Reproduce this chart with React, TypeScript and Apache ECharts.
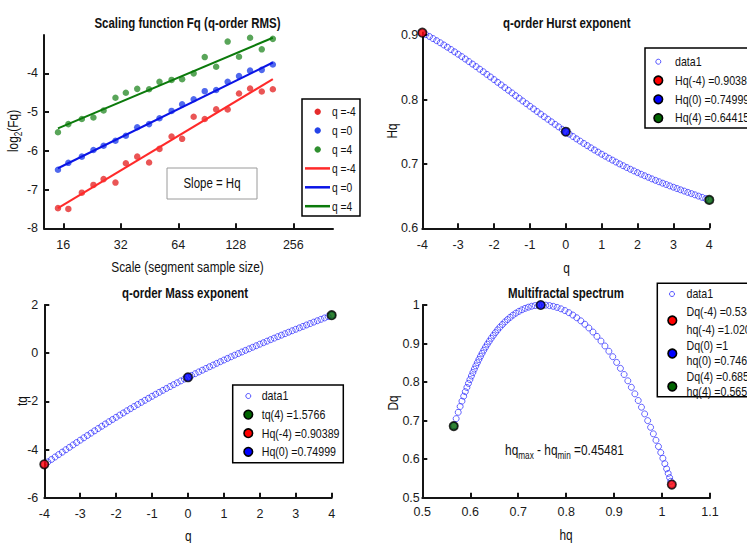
import React, { useEffect, useRef } from 'react';
import * as echarts from 'echarts';

const FONT = '"Liberation Sans", Arial, Helvetica, sans-serif';
const SX = 0.82;

// Panel 1: scaling function
const scales = [15, 17, 20, 23, 26, 30, 34, 39, 45, 51, 59, 67, 77, 88, 101, 116, 133, 152, 175, 200];
const fqNeg4 = [-7.48, -7.50, -7.08, -6.88, -6.73, -6.82, -6.32, -6.15, -6.30, -5.95, -5.63, -5.69, -5.12, -5.18, -4.93, -4.93, -4.52, -4.39, -4.47, -4.41];
const fq0 = [-6.49, -6.31, -6.15, -5.98, -5.87, -5.74, -5.61, -5.39, -5.31, -5.16, -4.97, -4.80, -4.67, -4.46, -4.43, -4.22, -4.07, -3.93, -3.91, -3.77];
const fq4 = [-5.52, -5.31, -5.18, -5.14, -4.96, -4.63, -4.50, -4.40, -4.41, -4.22, -4.17, -4.15, -4.00, -3.58, -3.83, -3.18, -3.57, -3.08, -3.38, -3.11];
const fitNeg4 = [-7.48, -4.15];
const fit0 = [-6.45, -3.72];
const fit4 = [-5.42, -3.08];
const scaleTickExp = [4, 5, 6, 7, 8];
const fqTicks = [-8, -7, -6, -5, -4];

// q grid
const qValues = [
  -4, -3.9, -3.8, -3.7, -3.6, -3.5, -3.4, -3.3, -3.2, -3.1, -3, -2.9, -2.8, -2.7, -2.6, -2.5, -2.4, -2.3, -2.2, -2.1,
  -2, -1.9, -1.8, -1.7, -1.6, -1.5, -1.4, -1.3, -1.2, -1.1, -1, -0.9, -0.8, -0.7, -0.6, -0.5, -0.4, -0.3, -0.2, -0.1,
  0, 0.1, 0.2, 0.3, 0.4, 0.5, 0.6, 0.7, 0.8, 0.9, 1, 1.1, 1.2, 1.3, 1.4, 1.5, 1.6, 1.7, 1.8, 1.9,
  2, 2.1, 2.2, 2.3, 2.4, 2.5, 2.6, 2.7, 2.8, 2.9, 3, 3.1, 3.2, 3.3, 3.4, 3.5, 3.6, 3.7, 3.8, 3.9, 4,
];
const hurst = [
  0.9039, 0.9009, 0.8979, 0.8947, 0.8915, 0.8882, 0.8848, 0.8813, 0.8777, 0.8741, 0.8704, 0.8667, 0.8629, 0.8590, 0.8551, 0.8512, 0.8472, 0.8432, 0.8391, 0.8351,
  0.8310, 0.8268, 0.8227, 0.8186, 0.8144, 0.8103, 0.8061, 0.8020, 0.7978, 0.7937, 0.7896, 0.7855, 0.7814, 0.7774, 0.7733, 0.7694, 0.7654, 0.7615, 0.7576, 0.7538,
  0.7500, 0.7463, 0.7426, 0.7389, 0.7354, 0.7318, 0.7284, 0.7250, 0.7216, 0.7184, 0.7151, 0.7120, 0.7089, 0.7059, 0.7029, 0.7000, 0.6972, 0.6944, 0.6917, 0.6891,
  0.6865, 0.6840, 0.6816, 0.6792, 0.6768, 0.6745, 0.6723, 0.6701, 0.6680, 0.6659, 0.6638, 0.6618, 0.6598, 0.6578, 0.6558, 0.6539, 0.6520, 0.6500, 0.6481, 0.6462, 0.6442,
];
const massExp = [
  -4.6155, -4.5136, -4.4119, -4.3105, -4.2094, -4.1086, -4.0082, -3.9083, -3.8088, -3.7098, -3.6113, -3.5134, -3.4161, -3.3194, -3.2234, -3.1280, -3.0333, -2.9393, -2.8461, -2.7536,
  -2.6619, -2.5710, -2.4809, -2.3916, -2.3031, -2.2154, -2.1285, -2.0425, -1.9574, -1.8731, -1.7896, -1.7069, -1.6251, -1.5441, -1.4640, -1.3847, -1.3062, -1.2284, -1.1515, -1.0754,
  -1.0000, -0.9254, -0.8515, -0.7783, -0.7059, -0.6341, -0.5630, -0.4925, -0.4227, -0.3535, -0.2849, -0.2168, -0.1493, -0.0824, -0.0159, 0.0500, 0.1155, 0.1805, 0.2451, 0.3093,
  0.3730, 0.4364, 0.4994, 0.5621, 0.6244, 0.6863, 0.7480, 0.8093, 0.8703, 0.9310, 0.9914, 1.0515, 1.1112, 1.1707, 1.2298, 1.2886, 1.3471, 1.4051, 1.4628, 1.5201, 1.5769,
];
const singularity = [
  1.0202, 1.0182, 1.0157, 1.0128, 1.0095, 1.0058, 1.0017, 0.9973, 0.9925, 0.9873, 0.9819, 0.9761, 0.9700, 0.9637, 0.9571, 0.9503, 0.9433, 0.9360, 0.9286, 0.9209,
  0.9132, 0.9053, 0.8972, 0.8891, 0.8809, 0.8726, 0.8642, 0.8559, 0.8474, 0.8390, 0.8306, 0.8222, 0.8139, 0.8056, 0.7974, 0.7892, 0.7811, 0.7732, 0.7653, 0.7576,
  0.7500, 0.7426, 0.7353, 0.7281, 0.7212, 0.7144, 0.7078, 0.7014, 0.6951, 0.6891, 0.6833, 0.6777, 0.6722, 0.6670, 0.6619, 0.6571, 0.6525, 0.6480, 0.6437, 0.6396,
  0.6356, 0.6318, 0.6282, 0.6247, 0.6213, 0.6180, 0.6148, 0.6116, 0.6085, 0.6055, 0.6024, 0.5993, 0.5962, 0.5930, 0.5897, 0.5863, 0.5827, 0.5789, 0.5749, 0.5706, 0.5660,
];
const spectrum = [
  0.5346, 0.5426, 0.5521, 0.5630, 0.5750, 0.5882, 0.6023, 0.6172, 0.6328, 0.6490, 0.6657, 0.6827, 0.7000, 0.7174, 0.7348, 0.7522, 0.7695, 0.7865, 0.8033, 0.8197,
  0.8356, 0.8510, 0.8659, 0.8801, 0.8937, 0.9065, 0.9186, 0.9299, 0.9404, 0.9501, 0.9589, 0.9669, 0.9740, 0.9802, 0.9856, 0.9901, 0.9937, 0.9965, 0.9985, 0.9996,
  1.0000, 0.9996, 0.9985, 0.9968, 0.9943, 0.9913, 0.9876, 0.9835, 0.9788, 0.9737, 0.9681, 0.9622, 0.9560, 0.9494, 0.9426, 0.9356, 0.9284, 0.9211, 0.9136, 0.9059,
  0.8983, 0.8905, 0.8826, 0.8747, 0.8667, 0.8586, 0.8504, 0.8421, 0.8336, 0.8248, 0.8158, 0.8064, 0.7966, 0.7862, 0.7751, 0.7633, 0.7505, 0.7367, 0.7216, 0.7051, 0.6869,
];

// Highlighted points (q = -4, 0, 4)
const markQ = [-4, 0, 4];
const markHq = [0.90389, 0.74999, 0.64415];
const markTq = [-4.6156, -1, 1.5766];
const markHs = [1.0204, 0.74698, 0.56558];
const markDq = [0.534, 1, 0.68573];
const markColors = ['#ff0000', '#0000ff', '#006400'];

const qTicks = [-4, -3, -2, -1, 0, 1, 2, 3, 4];
const hqTicks = [0.6, 0.7, 0.8, 0.9];
const tqTicks = [-6, -4, -2, 0, 2];
const hsTicks = [0.5, 0.6, 0.7, 0.8, 0.9, 1, 1.1];
const dqTicks = [0.5, 0.6, 0.7, 0.8, 0.9, 1];

const fmt = (v: number) => String(parseFloat(Number(v).toFixed(2)));

function axis(gridIndex: number, min: number, max: number, ticks: number[], interval: number, margin: number, formatter?: any) {
  return {
    type: 'value',
    gridIndex,
    min,
    max,
    interval,
    axisLine: { show: true, onZero: false, lineStyle: { color: '#151515', width: 2 } },
    axisTick: { show: true, inside: true, length: 5, customValues: ticks, lineStyle: { color: '#151515', width: 2 } },
    axisLabel: { show: true, customValues: ticks, margin, color: '#1a1a1a', fontSize: 12.5, fontFamily: FONT, formatter: formatter || fmt },
    splitLine: { show: false },
  };
}

export default function App() {
  const ref = useRef<HTMLDivElement>(null);
  useEffect(() => {
    if (!ref.current) return;
    const chart = echarts.init(ref.current, null, { renderer: 'svg' });
    const series: any[] = [];
    const dotSets: [number[], string][] = [[fqNeg4, '#e52b2b'], [fq0, '#2443e8'], [fq4, '#2f8f2f']];
    dotSets.forEach(([vals, c]) => {
      series.push({
        type: 'scatter', xAxisIndex: 0, yAxisIndex: 0, clip: false, silent: true,
        data: scales.map((s, i) => [Math.log2(s), vals[i]]),
        symbolSize: 6.5, itemStyle: { color: c },
      });
    });
    const fits: [number[], string][] = [[fitNeg4, '#ff2a2a'], [fit0, '#0a14e6'], [fit4, '#0b7a0b']];
    fits.forEach(([f, c]) => {
      series.push({
        type: 'line', xAxisIndex: 0, yAxisIndex: 0, silent: true, showSymbol: false, symbol: 'none',
        data: [[Math.log2(scales[0]), f[0]], [Math.log2(scales[scales.length - 1]), f[1]]],
        lineStyle: { color: c, width: 2 },
      });
    });
    const hollow = { color: 'rgba(0,0,0,0)', borderColor: '#2a2aff', borderWidth: 0.9 };
    const curves: [number, number[], number[], number[], number[]][] = [
      [1, qValues, hurst, markQ, markHq],
      [2, qValues, massExp, markQ, markTq],
      [3, singularity, spectrum, markHs, markDq],
    ];
    curves.forEach(([gi, xs, ys, mx, my]) => {
      series.push({
        type: 'scatter', xAxisIndex: gi, yAxisIndex: gi, clip: false, silent: true,
        data: xs.map((x, i) => [x, ys[i]]), symbol: 'circle', symbolSize: 6, itemStyle: hollow,
      });
      series.push({
        type: 'scatter', xAxisIndex: gi, yAxisIndex: gi, clip: false, silent: true, z: 5,
        data: mx.map((x, i) => ({ value: [x, my[i]], itemStyle: { color: markColors[i] } })),
        symbolSize: 8.5, itemStyle: { borderColor: '#000', borderWidth: 1.6 },
      });
    });

    const g: any[] = [];
    const text = (x: number, y: number, t: string, o: any = {}, el: any = {}) => {
      g.push({
        type: 'text', x, y, silent: true, z: 100, scaleX: SX, ...el,
        style: { text: t, fontFamily: FONT, fontSize: 13, fill: '#111', align: 'left', verticalAlign: 'middle', textAlign: 'left', textVerticalAlign: 'middle', ...o },
      });
    };
    const centered = { align: 'center', textAlign: 'center' };
    const title = { ...centered, fontSize: 14, fontWeight: 'bold' };
    const aname = { ...centered, fontSize: 14.5 };
    const rich = {
      m: { fontSize: 14.5, fontFamily: FONT, fill: '#111', padding: [0, 0, 3, 0], verticalAlign: 'top' },
      s: { fontSize: 10, fontFamily: FONT, fill: '#111', verticalAlign: 'bottom' },
    };
    // titles
    text(187.5, 23.3, 'Scaling function Fq (q-order RMS)', title);
    text(566.7, 23.3, 'q-order Hurst exponent', title);
    text(185, 292.7, 'q-order Mass exponent', title);
    text(566, 292.7, 'Multifractal spectrum', title);
    // axis names
    text(15, 131, '{m|log}{s|2}{m|(Fq)}', { ...centered, rich }, { rotation: Math.PI / 2 });
    text(187.5, 266.7, 'Scale (segment sample size)', aname);
    text(391.7, 131, 'Hq', aname, { rotation: Math.PI / 2 });
    text(566.5, 268, 'q', aname);
    text(21.7, 401, 'tq', aname, { rotation: Math.PI / 2 });
    text(188.3, 536, 'q', aname);
    text(393.3, 403, 'Dq', aname, { rotation: Math.PI / 2 });
    text(566, 535, 'hq', aname);

    const rect = (x: number, y: number, w: number, h: number, stroke = '#000', lw = 1.5) =>
      g.push({ type: 'rect', silent: true, z: 99, shape: { x, y, width: w, height: h }, style: { fill: '#fff', stroke, lineWidth: lw } });
    const dot = (cx: number, cy: number, r: number, fill: string, stroke: string, lw: number) =>
      g.push({ type: 'circle', silent: true, z: 100, shape: { cx, cy, r }, style: { fill, stroke, lineWidth: lw } });
    const seg = (x1: number, x2: number, y: number, c: string) =>
      g.push({ type: 'line', silent: true, z: 100, shape: { x1, y1: y, x2, y2: y }, style: { stroke: c, lineWidth: 2.5 } });

    // Slope box
    rect(167, 168, 90, 31, '#9a9a9a', 1);
    text(212, 183.5, 'Slope = Hq', { ...centered, fontSize: 14 });

    // Legend panel 1
    rect(302, 99, 58, 117);
    const l1 = ['q =-4', 'q =0', 'q =4', 'q =-4', 'q =0', 'q =4'];
    const l1c = ['#e52b2b', '#2443e8', '#2f8f2f', '#ff2a2a', '#0a14e6', '#0b7a0b'];
    l1.forEach((t, i) => {
      const y = 111.7 + i * 18.9;
      if (i < 3) dot(317.7, y, 3.2, l1c[i], 'none', 0);
      else seg(305, 330, y, l1c[i]);
      text(332, y, t, { fontSize: 12.5 });
    });

    // Legend panel 2
    rect(645, 48, 120, 80);
    const l2 = ['data1', 'Hq(-4) =0.90389', 'Hq(0) =0.74999', 'Hq(4) =0.64415'];
    l2.forEach((t, i) => {
      const y = 61.7 + i * 18.8;
      if (i === 0) dot(658.3, y, 2.5, 'none', '#2a2aff', 0.8);
      else dot(658.3, y, 4.3, markColors[i - 1], '#000', 1.6);
      text(675, y, t);
    });

    // Legend panel 3
    rect(232.7, 385, 110.6, 77.7);
    const l3 = ['data1', 'tq(4) =1.5766', 'Hq(-4) =0.90389', 'Hq(0) =0.74999'];
    const l3c = ['', markColors[2], markColors[0], markColors[1]];
    l3.forEach((t, i) => {
      const y = 396 + i * 18.6;
      if (i === 0) dot(248.3, y, 2.5, 'none', '#2a2aff', 0.8);
      else dot(248.3, y, 4.3, l3c[i], '#000', 1.6);
      text(261.7, y, t);
    });

    // Legend panel 4
    rect(657.3, 283.3, 110, 113.4);
    dot(672, 294, 2.5, 'none', '#2a2aff', 0.8);
    text(686.5, 294, 'data1');
    const l4 = [
      ['Dq(-4) =0.5340', 'hq(-4) =1.0204', 311.5, 329.5, 320.5],
      ['Dq(0) =1', 'hq(0) =0.74698', 345.5, 361, 353.5],
      ['Dq(4) =0.68573', 'hq(4) =0.56558', 377, 392, 386.5],
    ] as [string, string, number, number, number][];
    l4.forEach(([a, b, ya, yb, ym], i) => {
      dot(672.3, ym, 4.3, markColors[i], '#000', 1.6);
      text(686.5, ya, a);
      text(686.5, yb, b);
    });

    // annotation
    text(564.5, 451.7, '{m|hq}{s|max}{m| - hq}{s|min}{m| =0.45481}', { ...centered, rich });

    chart.setOption({
      animation: false,
      backgroundColor: '#fff',
      grid: [
        { left: 44, top: 35, width: 289, height: 193.3 },
        { left: 422.3, top: 32.6, width: 287, height: 195.7 },
        { left: 44.3, top: 305, width: 287.4, height: 192.7 },
        { left: 422.3, top: 305, width: 287.7, height: 192.7 },
      ],
      xAxis: [
        axis(0, 3.664, 8.69, scaleTickExp, 1, 10, (v: number) => String(Math.round(Math.pow(2, v)))),
        axis(1, -4, 4, qTicks, 1, 10),
        axis(2, -4, 4, qTicks, 1, 10),
        axis(3, 0.5, 1.1, hsTicks, 0.1, 8),
      ],
      yAxis: [
        axis(0, -8, -3.01, fqTicks, 1, 6),
        axis(1, 0.6, 0.904, hqTicks, 0.1, 4),
        axis(2, -6, 2, tqTicks, 2, 6),
        axis(3, 0.5, 1, dqTicks, 0.1, 2.5),
      ],
      series,
      graphic: g,
    });
    return () => chart.dispose();
  }, []);
  return <div ref={ref} style={{ position: 'absolute', left: 0, top: 0, width: 747, height: 543 }} />;
}
